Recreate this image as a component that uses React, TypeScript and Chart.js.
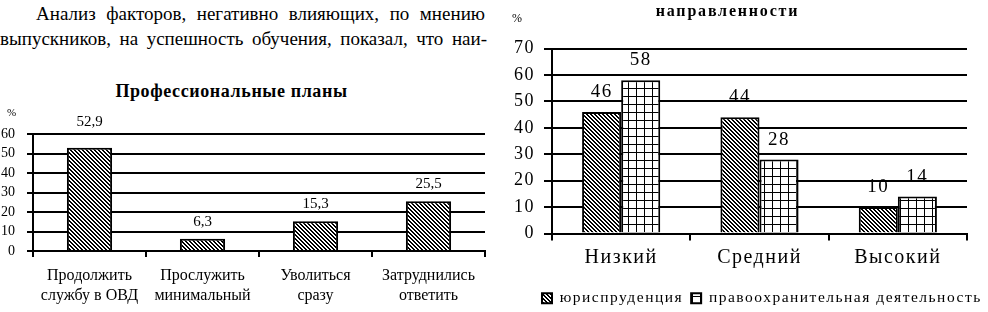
import React, { useEffect, useRef } from 'react';
import { Chart, registerables } from 'chart.js';

Chart.register(...registerables);

const FONT = 'Liberation Serif';

// ---- Left chart data: "Профессиональные планы" ----
const planCategories: string[][] = [
  ['Продолжить', 'службу в ОВД'],
  ['Прослужить', 'минимальный'],
  ['Уволиться', 'сразу'],
  ['Затруднились', 'ответить'],
];
const planValues: number[] = [52.9, 6.3, 15.3, 25.5];
const planAxisMax = 60;
const planAxisStep = 10;

// ---- Right chart data: "... направленности" ----
const levelCategories: string[] = ['Низкий', 'Средний', 'Высокий'];
const seriesNames: string[] = ['юриспруденция', 'правоохранительная деятельность'];
const lawValues: number[] = [46, 44, 10];
const enforcementValues: number[] = [58, 28, 14];
const levelAxisMax = 70;
const levelAxisStep = 10;

const unitText = '%';

function makeHatch(ctx: CanvasRenderingContext2D): CanvasPattern | string {
  const c = document.createElement('canvas');
  c.width = 4;
  c.height = 4;
  const g = c.getContext('2d')!;
  g.fillStyle = '#fff';
  g.fillRect(0, 0, 4, 4);
  g.fillStyle = '#000';
  for (let y = 0; y < 4; y++) {
    for (let x = 0; x < 4; x++) {
      if ((((x - y) % 4) + 4) % 4 < 2) g.fillRect(x, y, 1, 1);
    }
  }
  return ctx.createPattern(c, 'repeat') || '#888';
}

function makeGrid(ctx: CanvasRenderingContext2D): CanvasPattern | string {
  const c = document.createElement('canvas');
  c.width = 8;
  c.height = 8;
  const g = c.getContext('2d')!;
  g.fillStyle = '#fff';
  g.fillRect(0, 0, 8, 8);
  g.fillStyle = '#000';
  g.fillRect(0, 0, 8, 1);
  g.fillRect(0, 0, 1, 8);
  return ctx.createPattern(c, 'repeat') || '#ccc';
}

const valueLabels = {
  id: 'valueLabels',
  afterDatasetsDraw(chart: any, _args: any, opts: any) {
    const ctx = chart.ctx as CanvasRenderingContext2D;
    const ys = chart.scales.y;
    ctx.save();
    ctx.font = `${opts.size}px ${FONT}`;
    ctx.fillStyle = '#000';
    ctx.textAlign = 'center';
    ctx.textBaseline = 'alphabetic';
    const capH = opts.size * 0.66;
    chart.data.datasets.forEach((ds: any, i: number) => {
      const meta = chart.getDatasetMeta(i);
      meta.data.forEach((el: any, j: number) => {
        const text = String(ds.data[j]).replace('.', ',');
        let base = el.y - opts.gap;
        if (opts.avoidGrid) {
          ys.ticks.forEach((t: any) => {
            const gy = ys.getPixelForValue(t.value);
            if (base >= gy - 1 && base - capH <= gy + 1) base = gy - 8;
          });
        }
        ctx.fillText(text, el.x, base);
      });
    });
    ctx.restore();
  },
};

const unitLabel = {
  id: 'unitLabel',
  afterDraw(chart: any, _a: any, opts: any) {
    const ctx = chart.ctx as CanvasRenderingContext2D;
    ctx.save();
    (ctx as any).letterSpacing = '0px';
    ctx.font = `${opts.size}px ${FONT}`;
    ctx.fillStyle = '#000';
    ctx.textAlign = 'left';
    ctx.textBaseline = 'alphabetic';
    ctx.fillText(opts.text, opts.x, opts.y);
    ctx.restore();
  },
};

const spacing = {
  id: 'spacing',
  beforeUpdate(chart: any, _a: any, opts: any) {
    (chart.ctx as any).letterSpacing = opts.value || '0px';
  },
  beforeDraw(chart: any, _a: any, opts: any) {
    (chart.ctx as any).letterSpacing = opts.value || '0px';
  },
};

const legendShift = {
  id: 'legendShift',
  afterLayout(chart: any, _a: any, opts: any) {
    const lg = chart.legend;
    if (!lg || !opts.dx) return;
    lg.left += opts.dx;
    lg.right += opts.dx;
  },
};

function PlansChart() {
  const ref = useRef<HTMLCanvasElement>(null);
  useEffect(() => {
    const canvas = ref.current!;
    const ctx = canvas.getContext('2d')!;
    const hatch = makeHatch(ctx);
    const chart = new Chart(canvas, {
      type: 'bar',
      data: {
        labels: planCategories,
        datasets: [
          {
            label: 'Профессиональные планы',
            data: planValues,
            backgroundColor: hatch as any,
            borderColor: '#000',
            borderWidth: 2,
            barPercentage: 0.4,
            categoryPercentage: 1,
          },
        ],
      },
      plugins: [valueLabels, unitLabel],
      options: {
        responsive: false,
        animation: false,
        devicePixelRatio: 1,
        layout: { padding: { left: 0, right: 15, top: 74, bottom: 0 } },
        plugins: {
          legend: { display: false },
          tooltip: { enabled: false },
          valueLabels: { size: 15, gap: 13, avoidGrid: true },
          unitLabel: { text: unitText, size: 11, x: 7, y: 56 },
        } as any,
        scales: {
          x: {
            grid: { offset: true, drawOnChartArea: false, color: '#000', lineWidth: 2, tickLength: 6 },
            border: { display: true, color: '#000', width: 2 },
            ticks: {
              color: '#000',
              font: { family: FONT, size: 16, lineHeight: 1.25 },
              padding: 9,
              maxRotation: 0,
              autoSkip: false,
            },
            afterFit: (s: any) => {
              s.height = 61;
            },
          },
          y: {
            min: 0,
            max: planAxisMax,
            ticks: {
              stepSize: planAxisStep,
              autoSkip: false,
              color: '#000',
              font: { family: FONT, size: 14 },
              padding: 12,
            },
            grid: { color: '#000', lineWidth: 2, tickLength: 6 },
            border: { display: true, color: '#000', width: 2 },
            afterFit: (s: any) => {
              s.width = 33;
            },
          },
        },
      },
    });
    return () => chart.destroy();
  }, []);
  return (
    <canvas
      ref={ref}
      width={500}
      height={252}
      style={{ position: 'absolute', left: 0, top: 60, width: 500, height: 252 }}
    />
  );
}

function LevelsChart() {
  const ref = useRef<HTMLCanvasElement>(null);
  useEffect(() => {
    const canvas = ref.current!;
    const ctx = canvas.getContext('2d')!;
    const hatch = makeHatch(ctx);
    const grid = makeGrid(ctx);
    const chart = new Chart(canvas, {
      type: 'bar',
      data: {
        labels: levelCategories,
        datasets: [
          {
            label: seriesNames[0],
            data: lawValues,
            backgroundColor: hatch as any,
            borderColor: '#000',
            borderWidth: 2,
            barPercentage: 1,
            categoryPercentage: 0.565,
          },
          {
            label: seriesNames[1],
            data: enforcementValues,
            backgroundColor: grid as any,
            borderColor: '#000',
            borderWidth: 2,
            barPercentage: 1,
            categoryPercentage: 0.565,
          },
        ],
      },
      plugins: [spacing, valueLabels, legendShift, unitLabel],
      options: {
        responsive: false,
        animation: false,
        devicePixelRatio: 1,
        layout: { padding: { left: 0, right: 0, top: 48.5, bottom: -4 } },
        plugins: {
          spacing: { value: '1.5px' },
          legendShift: { dx: 34 },
          legend: {
            display: true,
            position: 'bottom',
            align: 'start',
            labels: {
              boxWidth: 10,
              boxHeight: 10,
              padding: 8,
              color: '#000',
              font: { family: FONT, size: 15.5, lineHeight: 1 },
            },
          },
          tooltip: { enabled: false },
          valueLabels: { size: 19, gap: 15, avoidGrid: false },
          unitLabel: { text: unitText, size: 12, x: 12, y: 22 },
        } as any,
        scales: {
          x: {
            grid: { offset: true, drawOnChartArea: false, color: '#000', lineWidth: 2, tickLength: 7 },
            border: { display: true, color: '#000', width: 2 },
            ticks: {
              color: '#000',
              font: { family: FONT, size: 20, lineHeight: 1.2 },
              padding: 5,
              maxRotation: 0,
              autoSkip: false,
            },
            afterFit: (s: any) => {
              s.height = 49;
            },
          },
          y: {
            min: 0,
            max: levelAxisMax,
            ticks: {
              stepSize: levelAxisStep,
              autoSkip: false,
              color: '#000',
              font: { family: FONT, size: 18 },
              padding: 9,
            },
            grid: { color: '#000', lineWidth: 2, tickLength: 8 },
            border: { display: true, color: '#000', width: 2 },
            afterFit: (s: any) => {
              s.width = 52;
            },
          },
          yRight: {
            type: 'linear',
            position: 'right',
            display: true,
            grid: { display: false, drawTicks: false },
            ticks: { display: false },
            border: { display: false },
            afterFit: (s: any) => {
              s.width = 21;
            },
          },
        } as any,
      },
    });
    return () => chart.destroy();
  }, []);
  return (
    <canvas
      ref={ref}
      width={488}
      height={312}
      style={{ position: 'absolute', left: 500, top: 0, width: 488, height: 312 }}
    />
  );
}

export default function App() {
  const text: React.CSSProperties = {
    position: 'absolute',
    fontFamily: FONT,
    color: '#000',
    whiteSpace: 'nowrap',
  };
  const para: React.CSSProperties = {
    position: 'absolute',
    fontFamily: FONT,
    fontSize: 19,
    lineHeight: '24px',
    color: '#000',
    textAlign: 'justify',
    textAlignLast: 'justify' as any,
  };
  return (
    <div
      style={{
        position: 'absolute',
        left: 0,
        top: 0,
        width: 988,
        height: 312,
        background: '#fff',
        overflow: 'hidden',
      }}
    >
      <div style={{ ...para, left: 36, top: 2, width: 449 }}>
        Анализ факторов, негативно влияющих, по мнению
      </div>
      <div style={{ ...para, left: 0, top: 27, width: 487 }}>
        выпускников, на успешность обучения, показал, что наи-
      </div>
      <div
        style={{
          ...text,
          left: 0,
          width: 463,
          top: 82,
          fontSize: 18,
          lineHeight: '18px',
          fontWeight: 'bold',
          letterSpacing: 0.6,
          textAlign: 'center',
        }}
      >
        Профессиональные планы
      </div>
      <PlansChart />
      <LevelsChart />
      <div
        style={{
          ...text,
          left: 600,
          width: 255,
          top: 3,
          fontSize: 16,
          lineHeight: '16px',
          fontWeight: 'bold',
          letterSpacing: 1.8,
          textAlign: 'center',
        }}
      >
        направленности
      </div>
    </div>
  );
}
